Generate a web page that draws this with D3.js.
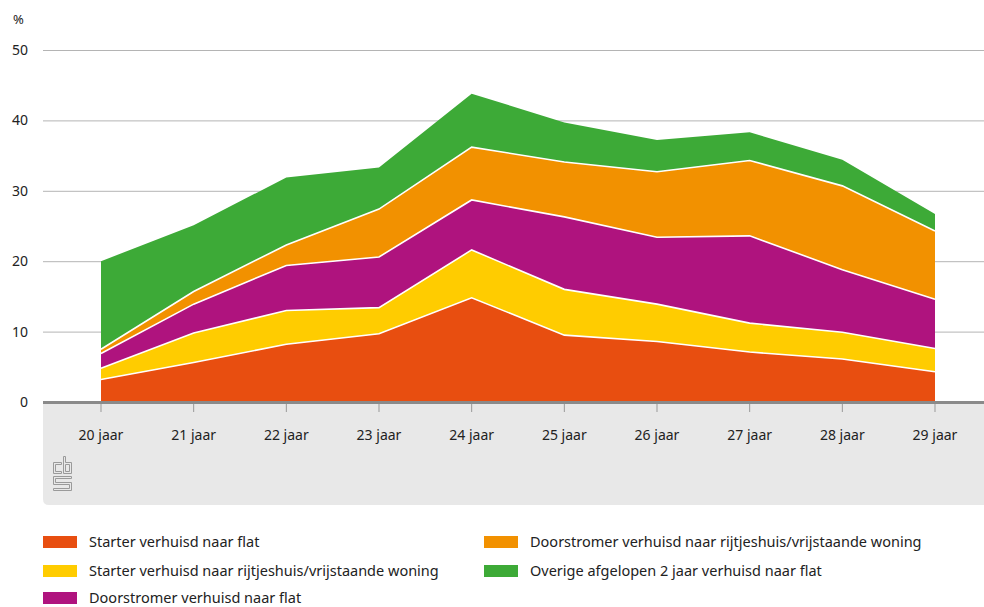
<!DOCTYPE html>
<html>
<head>
<meta charset="utf-8">
<script src="https://cdn.jsdelivr.net/npm/d3@7"></script>
<style>
  body { margin: 0; background: #fff; }
  svg text { font-family: "Noto Sans", "Open Sans", sans-serif; fill: #222; }
</style>
</head>
<body>
<svg id="chart" width="984" height="607"></svg>
<script>
// Categories and series (percent)
var ages = ['20 jaar', '21 jaar', '22 jaar', '23 jaar', '24 jaar', '25 jaar', '26 jaar', '27 jaar', '28 jaar', '29 jaar'];
var starterFlat     = [3.2, 5.6, 8.2, 9.7, 14.8, 9.5, 8.6, 7.1, 6.1, 4.3];
var starterHuis     = [1.6, 4.2, 4.8, 3.7, 6.8, 6.5, 5.3, 4.1, 3.8, 3.3];
var doorstromerFlat = [2.1, 4.1, 6.4, 7.2, 7.1, 10.3, 9.5, 12.4, 8.9, 7.0];
var doorstromerHuis = [0.6, 1.8, 2.9, 6.8, 7.5, 7.8, 9.3, 10.7, 11.9, 9.7];
var overigFlat      = [12.5, 9.4, 9.6, 5.9, 7.6, 5.6, 4.5, 4.0, 3.7, 2.4];
var yTicks = [0, 10, 20, 30, 40, 50];

var series = [
  { key: 'sf', name: 'Starter verhuisd naar flat', color: '#e84e10', values: starterFlat },
  { key: 'sh', name: 'Starter verhuisd naar rijtjeshuis/vrijstaande woning', color: '#ffcc00', values: starterHuis },
  { key: 'df', name: 'Doorstromer verhuisd naar flat', color: '#af137e', values: doorstromerFlat },
  { key: 'dh', name: 'Doorstromer verhuisd naar rijtjeshuis/vrijstaande woning', color: '#f29100', values: doorstromerHuis },
  { key: 'of', name: 'Overige afgelopen 2 jaar verhuisd naar flat', color: '#3daa37', values: overigFlat }
];

var rows = ages.map(function(a, i) {
  var r = { age: a };
  series.forEach(function(s) { r[s.key] = s.values[i]; });
  return r;
});

var svg = d3.select('#chart');
var plotL = 43, plotR = 984, plotT = 50, plotB = 402;

var x = d3.scalePoint().domain(ages).range([101, 935]);
var y = d3.scaleLinear().domain([0, 50]).range([plotB, plotT]);

// Bottom panel
svg.append('path')
  .attr('d', 'M' + plotL + ',' + plotB + 'H' + plotR + 'V505H' + (plotL + 6) + 'Q' + plotL + ',505 ' + plotL + ',499Z')
  .attr('fill', '#e8e8e8');

// Gridlines
svg.append('g').selectAll('line').data(yTicks.filter(function(t) { return t > 0; })).join('line')
  .attr('x1', plotL).attr('x2', plotR)
  .attr('y1', function(d) { return y(d) + 0.5; }).attr('y2', function(d) { return y(d) + 0.5; })
  .attr('stroke', '#b4b4b4').attr('stroke-width', 1);

// Y labels
svg.append('g').selectAll('text').data(yTicks).join('text')
  .attr('x', 28).attr('y', function(d) { return y(d) + 5; })
  .attr('text-anchor', 'end').attr('font-size', 14).text(function(d) { return d; });
svg.append('text').attr('x', 13).attr('y', 24).attr('font-size', 13).text('%');

// Stacked areas
var stack = d3.stack().keys(series.map(function(s) { return s.key; }));
var layers = stack(rows);
var area = d3.area()
  .x(function(d) { return x(d.data.age); })
  .y0(function(d) { return y(d[0]); })
  .y1(function(d) { return y(d[1]); });
var topLine = d3.line()
  .x(function(d) { return x(d.data.age); })
  .y(function(d) { return y(d[1]); });

svg.append('g').selectAll('path').data(layers).join('path')
  .attr('d', area)
  .attr('fill', function(d, i) { return series[i].color; });

svg.append('g').selectAll('path').data(layers.slice(0, layers.length - 1)).join('path')
  .attr('d', topLine)
  .attr('fill', 'none').attr('stroke', '#fff').attr('stroke-width', 1.6);

// X axis line and ticks
svg.append('line').attr('x1', plotL).attr('x2', plotR).attr('y1', plotB + 0.5).attr('y2', plotB + 0.5)
  .attr('stroke', '#8a8a8a').attr('stroke-width', 3);
svg.append('g').selectAll('line').data(ages).join('line')
  .attr('x1', function(d) { return x(d); }).attr('x2', function(d) { return x(d); })
  .attr('y1', plotB + 2).attr('y2', plotB + 10)
  .attr('stroke', '#999').attr('stroke-width', 1);
svg.append('g').selectAll('text').data(ages).join('text')
  .attr('x', function(d) { return x(d); }).attr('y', 440)
  .attr('text-anchor', 'middle').attr('font-size', 14).text(function(d) { return d; });

// CBS logo (outline letters)
var logo = svg.append('g').attr('transform', 'translate(53.5,456.5)')
  .attr('fill', 'none').attr('stroke', '#9a9a9a').attr('stroke-width', 1);
logo.append('path').attr('d', 'M8,6H0V17H8V15H2V8H8Z');
logo.append('path').attr('d', 'M10,0H12V6H18V17H10Z M12,8H16V15H12Z');
logo.append('path').attr('d', 'M18,20H0V28H16V32H0V34H18V26H2V22H18Z');

// Legend
var legendPos = [
  { x: 43, y: 542 }, { x: 43, y: 571 }, { x: 43, y: 598 },
  { x: 484, y: 542 }, { x: 484, y: 571 }
];
var leg = svg.append('g').selectAll('g').data(series).join('g')
  .attr('transform', function(d, i) { return 'translate(' + legendPos[i].x + ',' + legendPos[i].y + ')'; });
leg.append('rect').attr('x', 0).attr('y', -6).attr('width', 34).attr('height', 12)
  .attr('fill', function(d) { return d.color; });
leg.append('text').attr('x', 46).attr('y', 5).attr('font-size', 14.5)
  .text(function(d) { return d.name; });
</script>
</body>
</html>
